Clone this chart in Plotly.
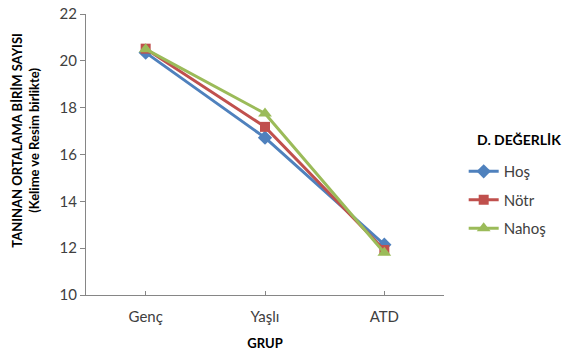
import plotly.graph_objects as go

groups = ["Genç", "Yaşlı", "ATD"]
hos = [20.35, 16.72, 12.15]
notr = [20.52, 17.18, 11.92]
nahos = [20.5, 17.75, 11.8]

series = [
    ("Hoş", hos, "#4F81BD", "diamond", 11),
    ("Nötr", notr, "#C0504D", "square", 10),
    ("Nahoş", nahos, "#9BBB59", "triangle-up", 12),
]

font_family = "Lato, 'Open Sans', sans-serif"

fig = go.Figure()
for name, vals, color, symbol, size in series:
    fig.add_trace(go.Scatter(
        x=groups, y=vals, name=name, legendgroup=name, mode="lines+markers",
        line=dict(color=color, width=3),
        marker=dict(symbol=symbol, size=size, color=color),
    ))

# legend heading
fig.add_annotation(
    text="<b>D. DEĞERLİK</b>", xref="paper", yref="paper",
    x=1.333, y=0.553, xanchor="right", yanchor="middle", showarrow=False,
    font=dict(size=14, color="#000000"),
)

# vertical value-axis title, set slightly above the plot's middle
fig.add_annotation(
    text="<b>TANINAN ORTALAMA BİRİM SAYISI<br>(Kelime ve Resim birlikte)</b>",
    xref="paper", yref="paper", x=-0.168, y=0.552,
    xanchor="center", yanchor="middle", textangle=-90, showarrow=False,
    font=dict(size=13, color="#000000"),
)

fig.update_layout(
    width=579, height=356,
    margin=dict(l=86, r=135, t=14, b=61),
    plot_bgcolor="white", paper_bgcolor="white",
    font=dict(family=font_family, size=15, color="#404040"),
    showlegend=True,
    legend=dict(
        x=1.055, y=0.498, xanchor="left", yanchor="top",
        font=dict(size=15, color="#404040"),
        itemwidth=30, tracegroupgap=6,
    ),
    xaxis=dict(
        showline=True, linecolor="#868686", linewidth=1,
        ticks="inside", ticklen=4, tickcolor="#868686",
        showgrid=False, range=[-0.5, 2.5], ticklabelstandoff=8,
        automargin=False,
        title=dict(text="<b>GRUP</b>", font=dict(size=13, color="#000000"), standoff=14),
    ),
    yaxis=dict(
        showline=True, linecolor="#868686", linewidth=1,
        ticks="outside", ticklen=5, tickcolor="#868686",
        showgrid=False, range=[10, 22], dtick=2, zeroline=False,
        automargin=False,
    ),
)

fig.write_html("out.html")
